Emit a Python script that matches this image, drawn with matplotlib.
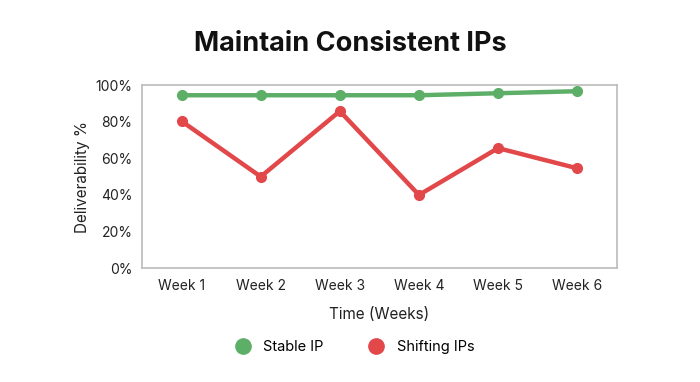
import matplotlib.pyplot as plt
from matplotlib.lines import Line2D

plt.rcParams['font.family'] = ['Inter', 'DejaVu Sans']

weeks = ['Week 1', 'Week 2', 'Week 3', 'Week 4', 'Week 5', 'Week 6']
stable_ip = [94.5, 94.5, 94.5, 94.5, 95.6, 96.7]
shifting_ips = [80.3, 50.0, 85.8, 40.0, 65.6, 54.6]
y_ticks = [0, 20, 40, 60, 80, 100]

green = '#5daf68'
red = '#e2474a'

fig = plt.figure(figsize=(7, 3.82), dpi=100)
ax = fig.add_axes([0.203, 0.298, 0.678, 0.479])

x = range(len(weeks))
ax.plot(x, stable_ip, color=green, lw=3.2, marker='o', ms=7, solid_capstyle='round')
ax.plot(x, shifting_ips, color=red, lw=3.2, marker='o', ms=7, solid_capstyle='round')

ax.set_xlim(-0.5, len(weeks) - 0.5)
ax.set_ylim(0, 100)
ax.set_xticks(list(x))
ax.set_xticklabels(weeks)
ax.set_yticks(y_ticks)
ax.set_yticklabels([f'{v}%' for v in y_ticks])
ax.tick_params(axis='y', length=0, labelsize=10, colors='#222222', pad=7)
ax.tick_params(axis='x', length=0, labelsize=10, colors='#222222', pad=8)

for s in ax.spines.values():
    s.set_color('#bbbbbb')
    s.set_linewidth(1.2)

ax.set_xlabel('Time (Weeks)', fontsize=11, color='#222222', labelpad=10)
ax.set_ylabel('Deliverability %', fontsize=11, color='#222222', labelpad=4)

fig.text(0.5, 0.885, 'Maintain Consistent IPs', ha='center', va='center',
         fontsize=19.5, fontweight='bold', color='#111111')

handles = [Line2D([], [], color=green, marker='o', ms=11, ls='none'),
           Line2D([], [], color=red, marker='o', ms=11, ls='none')]
fig.legend(handles, ['Stable IP', 'Shifting IPs'], loc='center',
           bbox_to_anchor=(0.502, 0.092), ncol=2, frameon=False, fontsize=10.5,
           columnspacing=2.6, handletextpad=0.4)

fig.savefig('out.png')
